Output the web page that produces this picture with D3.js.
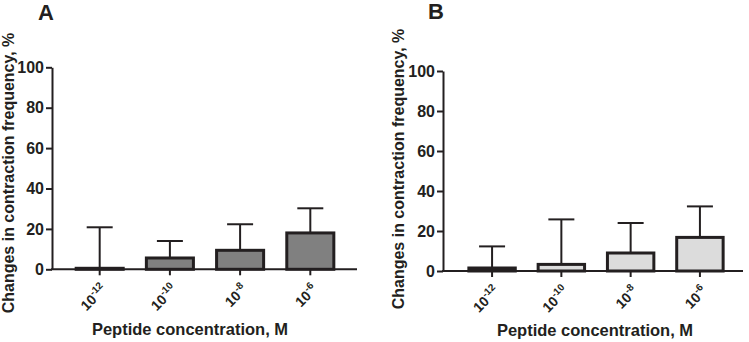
<!DOCTYPE html>
<html>
<head>
<meta charset="utf-8">
<script src="https://cdn.jsdelivr.net/npm/d3@7"></script>
<style>
  body { margin: 0; background: #fff; }
  svg { display: block; font-family: "Liberation Sans", Arial, sans-serif; }
</style>
</head>
<body>
<svg id="chart" width="749" height="342"></svg>
<script>
const exponents = ["-12", "-10", "-8", "-6"];
const meanA = [0.5, 5.6, 9.4, 18];
const sdA = [20.3, 8.4, 12.9, 12.2];
const meanB = [1.5, 3.3, 9, 16.8];
const sdB = [10.8, 22.5, 15, 15.5];
const yTicks = [0, 20, 40, 60, 80, 100];

const ink = "#231f20";
const svg = d3.select("#chart");

const panels = [
  { letter: "A", mean: meanA, sd: sdA, fill: "#808080",
    axisX: 52, xRange: [53, 357], xEnd: 357, yRange: [269.3, 67.3],
    letterX: 38, letterY: 20, yTitleX: 14, yTitleY: 173, xTitleX: 190, xTitleY: 335 },
  { letter: "B", mean: meanB, sd: sdB, fill: "#dcdcdc",
    axisX: 443, xRange: [446, 746], xEnd: 743, yRange: [271, 71],
    letterX: 428, letterY: 19, yTitleX: 404, yTitleY: 169, xTitleX: 595, xTitleY: 336 }
];

panels.forEach(drawPanel);

function drawPanel(p) {
  const g = svg.append("g");
  const x = d3.scaleBand().domain(exponents).range(p.xRange).padding(0.33);
  const y = d3.scaleLinear().domain([0, 100]).range(p.yRange);
  const y0 = y(0);

  const data = exponents.map((e, i) => ({ e, m: p.mean[i], s: p.sd[i] }));

  // error bars (upper only)
  const err = g.append("g").attr("stroke", ink).attr("stroke-width", 2);
  data.forEach((d) => {
    const cx = x(d.e) + x.bandwidth() / 2;
    err.append("line")
      .attr("x1", cx).attr("x2", cx)
      .attr("y1", y(d.m)).attr("y2", y(d.m + d.s));
    err.append("line")
      .attr("x1", cx - 13).attr("x2", cx + 13)
      .attr("y1", y(d.m + d.s)).attr("y2", y(d.m + d.s));
  });

  g.append("g")
    .selectAll("rect")
    .data(data)
    .join("rect")
    .attr("x", (d) => x(d.e))
    .attr("width", x.bandwidth())
    .attr("y", (d) => y(d.m))
    .attr("height", (d) => Math.max(0.5, y0 - y(d.m)))
    .attr("fill", p.fill)
    .attr("stroke", ink)
    .attr("stroke-width", 3);

  // y axis
  const yAxis = g.append("g")
    .attr("transform", `translate(${p.axisX},0)`)
    .call(d3.axisLeft(y).tickValues(yTicks).tickSize(6).tickPadding(2).tickSizeOuter(0));
  yAxis.select(".domain").attr("stroke", ink).attr("stroke-width", 2);
  yAxis.selectAll(".tick line").attr("stroke", ink).attr("stroke-width", 2);
  yAxis.selectAll(".tick text")
    .attr("fill", ink)
    .style("font-size", "16px")
    .style("font-weight", "bold");

  // x axis
  g.append("line")
    .attr("x1", p.axisX - 1).attr("x2", p.xEnd)
    .attr("y1", y0).attr("y2", y0)
    .attr("stroke", ink).attr("stroke-width", 2);

  const xt = g.append("g").selectAll("g")
    .data(exponents)
    .join("g")
    .attr("transform", (d) => `translate(${x(d) + x.bandwidth() / 2},${y0})`);
  xt.append("line").attr("y1", 0).attr("y2", 6).attr("stroke", ink).attr("stroke-width", 2);
  // rotated labels: 10 with superscript exponent
  const lab = xt.append("g")
    .attr("transform", "translate(1,14) rotate(-45)")
    .append("text")
    .attr("text-anchor", "end")
    .attr("y", 10)
    .attr("fill", ink)
    .style("font-size", "14px")
    .style("font-weight", "bold");
  lab.append("tspan").text("10");
  lab.append("tspan")
    .attr("dy", -6)
    .style("font-size", "10px")
    .text((d) => d);

  // titles
  svg.append("text")
    .attr("x", p.letterX).attr("y", p.letterY)
    .attr("fill", ink)
    .style("font-size", "22px").style("font-weight", "bold")
    .text(p.letter);

  svg.append("text")
    .attr("transform", `translate(${p.yTitleX},${p.yTitleY}) rotate(-90)`)
    .attr("text-anchor", "middle")
    .attr("fill", ink)
    .style("font-size", "16px").style("font-weight", "bold")
    .text("Changes in contraction frequency, %");

  svg.append("text")
    .attr("x", p.xTitleX).attr("y", p.xTitleY)
    .attr("text-anchor", "middle")
    .attr("fill", ink)
    .style("font-size", "16.5px").style("font-weight", "bold")
    .text("Peptide concentration, M");
}
</script>
</body>
</html>
